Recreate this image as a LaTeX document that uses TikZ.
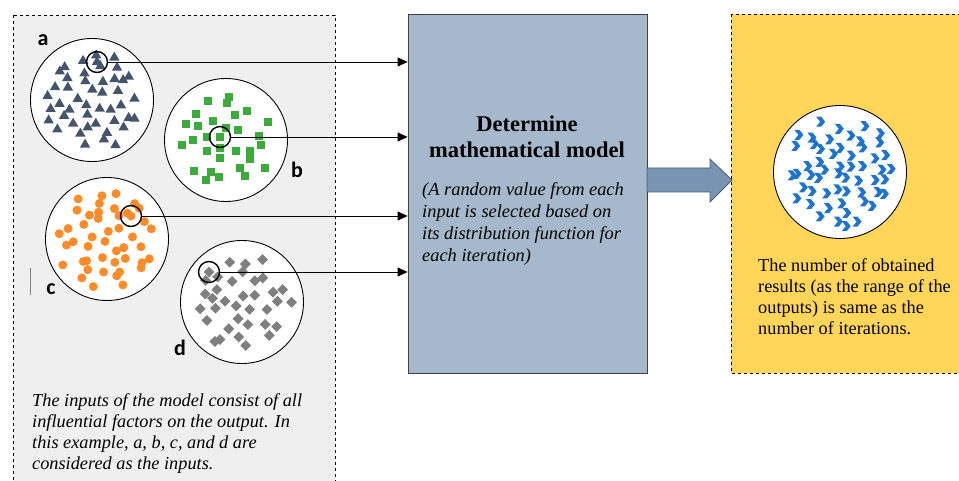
\documentclass[tikz,border=0pt]{standalone}
\usepackage{fontspec}
\setmainfont{Liberation Serif}
\newfontfamily\labelfont{Carlito}
\usetikzlibrary{shapes.geometric,arrows.meta,calc}
\definecolor{trianglecol}{RGB}{68,84,106}
\definecolor{squarecol}{RGB}{60,170,60}
\definecolor{dotcol}{RGB}{255,140,40}
\definecolor{diamondcol}{RGB}{127,127,127}
\definecolor{chevroncol}{RGB}{30,115,205}
\definecolor{inputgray}{RGB}{239,239,239}
\definecolor{modelblue}{RGB}{166,185,204}
\definecolor{outyellow}{RGB}{255,214,90}
\definecolor{arrowblue}{RGB}{120,148,176}
\definecolor{arrowedge}{RGB}{72,96,120}

\newcommand{\spread}[4]{%
  \foreach \k in {1,...,#2}{
    \pgfmathsetmacro{\rr}{#4*sqrt((\k-0.5)/#2)+4*rand}
    \pgfmathsetmacro{\aa}{137.508*\k+10*rand}
    \path ($(#1)+(\aa:\rr)$) #3;
  }}

\begin{document}
\begin{tikzpicture}[x=1pt,y=-1pt,
  pool/.style={draw,circle,fill=white,minimum size=123pt,inner sep=0pt,line width=0.9pt},
  pick/.style={draw,circle,minimum size=21pt,inner sep=0pt,line width=1.4pt},
  tri/.style={regular polygon,regular polygon sides=3,fill=trianglecol,minimum size=12pt,inner sep=0pt},
  sq/.style={rectangle,fill=squarecol,minimum size=8pt,inner sep=0pt},
  dot/.style={circle,fill=dotcol,minimum size=9pt,inner sep=0pt},
  dia/.style={diamond,fill=diamondcol,minimum size=11pt,inner sep=0pt},
  tag/.style={font=\labelfont\bfseries\fontsize{22}{22}\selectfont},
  note/.style={anchor=north west,inner sep=0pt,align=left},
  feed/.style={line width=0.8pt,-{Triangle[length=10pt,width=9pt]}},
  chev/.pic={\fill[chevroncol] (-4,-5) -- (1,-5) -- (5,0) -- (1,5) -- (-4,5) -- (0,0) -- cycle;}
]
\useasboundingbox (0,0) rectangle (959,481);

\draw[dashed,fill=inputgray] (13,15) rectangle (335,490);
\draw[dashed,fill=outyellow] (731,14) rectangle (970,373);

\node[pool] (ca) at (92,100) {};
\node[pool] (cb) at (226,140) {};
\node[pool] (cc) at (107,239) {};
\node[pool] (cd) at (242,302) {};
\node[pool,minimum size=133pt] (cout) at (840,172) {};

\pgfmathsetseed{11}
\spread{ca}{45}{node[tri]{}}{48}
\spread{cb}{30}{node[sq]{}}{48}
\spread{cc}{45}{node[dot]{}}{50}
\spread{cd}{35}{node[dia]{}}{48}
\spread{cout}{55}{pic{chev}}{54}

\node[tri] at (97,62) {};
\node[sq] at (220,137) {};
\node[dot] at (131,216) {};
\node[dia] at (209,272) {};
\node[pick] (pa) at (97,62) {};
\node[pick] (pb) at (220,137) {};
\node[pick] (pc) at (131,216) {};
\node[pick] (pd) at (209,272) {};

\node[tag] (la) at (43,40) {a};
\node[tag] (lb) at (297,170) {b};
\node[tag] (lc) at (51,289) {c};
\node[tag] (ld) at (180,348) {d};
\draw[gray,line width=0.8pt] (30,268) -- (30,295);

\node[draw=black!75,fill=modelblue,minimum width=239pt,minimum height=359pt,line width=0.8pt] (model) at (527.5,193.5) {};
\node[font=\bfseries\fontsize{22.5}{26}\selectfont,align=center,inner sep=0pt] (title) at (527,136.5) {Determine\\mathematical model};
\node[note,font=\itshape\fontsize{18.4}{22}\selectfont] (modelnote) at (422,182)
  {(A random value from each\\input is selected based on\\its distribution function for\\each iteration)};

\draw[feed] (pa.east) -- (pa.east -| model.west);
\draw[feed] (pb.east) -- (pb.east -| model.west);
\draw[feed] (pc.east) -- (pc.east -| model.west);
\draw[feed] (pd.east) -- (pd.east -| model.west);

\draw[draw=arrowedge,fill=arrowblue,line width=0.8pt] (647,168) -- (710,168) -- (710,159) -- (732,180) -- (710,202) -- (710,192) -- (647,192) -- cycle;

\node[note,font=\itshape\fontsize{18.3}{21}\selectfont] (inputsnote) at (32,393)
  {The inputs of the model consist of all\\influential factors on the output. In\\this example, a, b, c, and d are\\considered as the inputs.};
\node[note,font=\fontsize{18.3}{21}\selectfont] (outnote) at (758,258)
  {The number of obtained\\results (as the range of the\\outputs) is same as the\\number of iterations.};
\end{tikzpicture}
\end{document}
